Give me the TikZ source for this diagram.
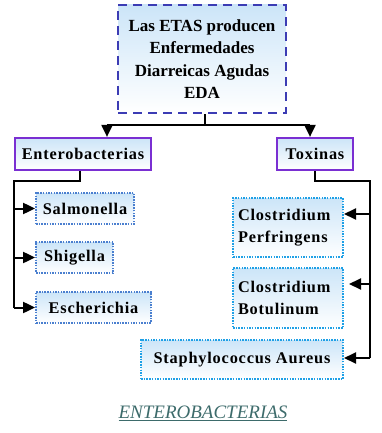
\documentclass[tikz,border=0pt]{standalone}
\usepackage{fontspec}
\setmainfont{Liberation Serif}
\newfontfamily\boxfont[LetterSpace=5]{Liberation Serif}
\usetikzlibrary{arrows.meta,calc}
\definecolor{dashblue}{HTML}{3C3CB4}
\definecolor{boxpurple}{HTML}{7A2FD2}
\definecolor{dotblue}{HTML}{4A7FCF}
\definecolor{dotcyan}{HTML}{1EA0E6}
\definecolor{shadeblue}{HTML}{CCE5F8}
\definecolor{captcol}{HTML}{3D6B6B}
\tikzset{
  boxbase/.style={rectangle, top color=shadeblue, bottom color=white, inner sep=0pt,
    font=\boxfont\fontsize{16.3}{22.5}\selectfont\bfseries},
  titlebox/.style={boxbase, draw=dashblue, line width=2pt, dash pattern=on 9pt off 6pt,
    font=\fontsize{17}{22.5}\selectfont\bfseries, align=center},
  catbox/.style={boxbase, draw=boxpurple, line width=2.2pt},
  leafl/.style={boxbase, draw=dotblue, line width=1.8pt, dash pattern=on 1.5pt off 1.2pt},
  leafr/.style={boxbase, draw=dotcyan, line width=2pt, dash pattern=on 1.5pt off 1.2pt, align=left},
  conn/.style={draw=black, line width=2pt},
  arr/.style={conn, -{Triangle[length=12pt,width=11pt]}},
}
\begin{document}
\begin{tikzpicture}[x=1pt,y=-1pt]
\useasboundingbox (0,0) rectangle (382,433);
\node[titlebox, minimum width=168pt, minimum height=108pt] (top) at (202,59)
  {Las ETAS producen\\Enfermedades\\Diarreicas Agudas\\EDA};
\node[catbox, minimum width=136pt, minimum height=32pt] (entero) at (83,154) {Enterobacterias};
\node[catbox, minimum width=76pt, minimum height=32pt] (tox) at (315,154) {Toxinas};
\node[leafl, minimum width=98pt, minimum height=31pt] (salm) at (85,208.5) {Salmonella};
\node[leafl, minimum width=77pt, minimum height=31pt] (shig) at (74.5,257.5) {Shigella};
\node[leafl, minimum width=115pt, minimum height=31pt] (esch) at (93.5,307.5) {Escherichia};
\node[leafr, minimum width=110pt, minimum height=59pt, text width=100pt] (perf) at (288,227.5) {Clostridium\\Perfringens};
\node[leafr, minimum width=110pt, minimum height=60pt, text width=100pt] (botu) at (288,298) {Clostridium\\Botulinum};
\node[leafr, minimum width=202pt, minimum height=39pt, align=center] (staph) at (242,359.5) {Staphylococcus Aureus};
\node[text=captcol, font=\fontsize{19}{22}\selectfont\itshape] (capt) at (203,413)
  {\underline{ENTEROBACTERIAS}};
% top connectors
\coordinate (j) at (205,125);
\draw[conn] (top.south -| j) -- (j);
\draw[conn] (107,125) -- (310,125);
\draw[arr] (j -| 107,0) -- (107,0 |- entero.north);
\draw[arr] (310,125) -- (310,0 |- tox.north);
% left tree
\coordinate (lt) at (14,181);
\draw[conn] (80,0 |- entero.south) |- (lt) -- (lt |- esch.west);
\draw[arr] (lt |- salm.west) -- (salm.west);
\draw[arr] (lt |- shig.west) -- (shig.west);
\draw[arr] (lt |- esch.west) -- (esch.west);
% right tree
\coordinate (rt) at (370,181);
\draw[conn] (tox.south) |- (rt) -- ($(rt |- staph.east)+(0,-1.5)$);
\draw[arr] ($(rt |- perf.east)+(0,-13.5)$) -- ($(perf.east)+(0,-13.5)$);
\draw[arr] ($(rt |- botu.east)+(0,-14)$) -- ($(botu.east)+(0,-14)+(5,0)$);
\draw[arr] ($(rt |- staph.east)+(0,-1.5)$) -- ($(staph.east)+(0,-1.5)$);
\end{tikzpicture}
\end{document}
